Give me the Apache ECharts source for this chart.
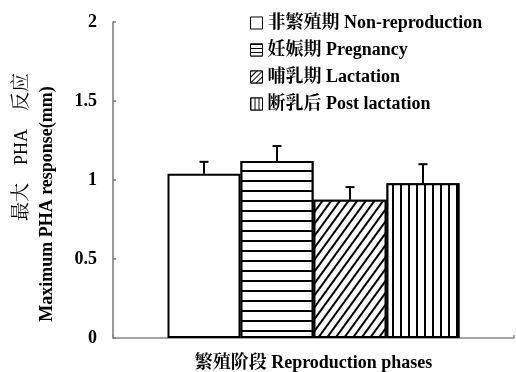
<!DOCTYPE html>
<html>
<head>
<meta charset="utf-8">
<script src="https://cdn.jsdelivr.net/npm/echarts@6/dist/echarts.min.js"></script>
<style>html,body{margin:0;padding:0;background:#fff;}#c{width:516px;height:372px;}</style>
</head>
<body>
<div id="c"></div>
<script>
var categories = ['繁殖阶段'];
var seriesNames = ['非繁殖期 Non-reproduction', '妊娠期 Pregnancy', '哺乳期 Lactation', '断乳后 Post lactation'];
var means = [1.04, 1.12, 0.875, 0.98];
var errors = [0.075, 0.095, 0.08, 0.12];
var yTicks = [0, 0.5, 1, 1.5, 2];

var FONT = "'Times New Roman','Liberation Serif','Noto Serif CJK SC','Noto Sans CJK SC',serif";
var BAR_W = 73;

var decals = [
  null,
  {symbol: 'rect', symbolSize: 1, dashArrayX: [1, 0], dashArrayY: [1.3, 7.6], color: '#000', backgroundColor: '#fff'},
  {symbol: 'rect', symbolSize: 1, dashArrayX: [1.2, 5], dashArrayY: [1, 0], rotation: Math.PI / 5, color: '#000', backgroundColor: '#fff'},
  {symbol: 'rect', symbolSize: 1, dashArrayX: [1.3, 6], dashArrayY: [1, 0], color: '#000', backgroundColor: '#fff'}
];
var legendDecals = [
  null,
  {symbol: 'rect', symbolSize: 1, dashArrayX: [1, 0], dashArrayY: [1, 3], color: '#000', backgroundColor: '#fff'},
  {symbol: 'rect', symbolSize: 1, dashArrayX: [1, 2.2], dashArrayY: [1, 0], rotation: Math.PI / 4, color: '#000', backgroundColor: '#fff'},
  {symbol: 'rect', symbolSize: 1, dashArrayX: [1, 2.8], dashArrayY: [1, 0], color: '#000', backgroundColor: '#fff'}
];

var chart = echarts.init(document.getElementById('c'), null, {renderer: 'canvas'});

var series = seriesNames.map(function (name, i) {
  var s = {
    name: name,
    type: 'bar',
    barWidth: BAR_W,
    barGap: '0%',
    data: [means[i]],
    itemStyle: {color: '#fff', borderColor: '#000', borderWidth: 2},
    emphasis: {disabled: true},
    z: 2
  };
  if (decals[i]) s.itemStyle.decal = decals[i];
  return s;
});

var errData = means.map(function (m, i) { return [0, m, errors[i], i]; });
series.push({
  type: 'custom',
  data: errData,
  encode: {x: 0, y: 1},
  z: 5,
  silent: true,
  renderItem: function (params, api) {
    var v = api.value(1), e = api.value(2), k = api.value(3);
    var base = api.coord([api.value(0), v]);
    var top = api.coord([api.value(0), v + e]);
    var x = base[0] + (k - (means.length - 1) / 2) * BAR_W;
    return {
      type: 'group',
      children: [
        {type: 'line', shape: {x1: x, y1: base[1], x2: x, y2: top[1]}, style: {stroke: '#000', lineWidth: 2}},
        {type: 'line', shape: {x1: x - 4.5, y1: top[1], x2: x + 4.5, y2: top[1]}, style: {stroke: '#000', lineWidth: 2}}
      ]
    };
  }
});

chart.setOption({
  animation: false,
  backgroundColor: '#fff',
  grid: {left: 113, right: 2, top: 22, bottom: 34, containLabel: false, outerBoundsMode: 'none'},
  legend: {
    orient: 'vertical',
    left: 250,
    top: 14,
    padding: 0,
    itemWidth: 12,
    itemHeight: 12,
    itemGap: 9,
    icon: 'rect',
    data: seriesNames.map(function (n, i) {
      var d = {name: n, itemStyle: {color: '#fff', borderColor: '#000', borderWidth: 1}};
      if (legendDecals[i]) d.itemStyle.decal = legendDecals[i];
      return d;
    }),
    textStyle: {fontFamily: FONT, fontWeight: 'bold', fontSize: 18, color: '#000'}
  },
  xAxis: {
    type: 'category',
    data: categories,
    name: '繁殖阶段 Reproduction phases',
    nameLocation: 'middle',
    nameGap: 16,
    nameTextStyle: {fontFamily: FONT, fontWeight: 'bold', fontSize: 18, color: '#000'},
    axisLine: {lineStyle: {color: '#888', width: 1.5}},
    axisTick: {show: true, inside: true, length: 3, lineStyle: {color: '#888', width: 1.5}},
    axisLabel: {show: false},
    splitLine: {show: false}
  },
  yAxis: {
    type: 'value',
    min: yTicks[0],
    max: yTicks[yTicks.length - 1],
    interval: yTicks[1] - yTicks[0],
    axisLine: {show: true, lineStyle: {color: '#777', width: 1.5}},
    axisTick: {show: true, inside: true, length: 3, lineStyle: {color: '#777', width: 1.5}},
    axisLabel: {
      fontFamily: FONT, fontWeight: 'bold', fontSize: 18, color: '#000', margin: 16,
      formatter: function (v) { return String(v); }
    },
    splitLine: {show: false}
  },
  graphic: [
    {
      type: 'text', x: 22, y: 147, rotation: Math.PI / 2,
      style: {
        text: '{a|最大}{b|PHA}{a|反应}',
        rich: {
          a: {fontFamily: FONT, fontSize: 19, fill: '#000'},
          b: {fontFamily: FONT, fontSize: 18, fill: '#000', padding: [0, 18, 0, 18]}
        },
        textAlign: 'center', textVerticalAlign: 'middle'
      }
    },
    {
      type: 'text', x: 47, y: 204, rotation: Math.PI / 2,
      style: {
        text: 'Maximum PHA response(mm)',
        font: 'bold 18px ' + FONT,
        fill: '#000',
        textAlign: 'center', textVerticalAlign: 'middle'
      }
    }
  ],
  series: series
});
</script>
</body>
</html>
